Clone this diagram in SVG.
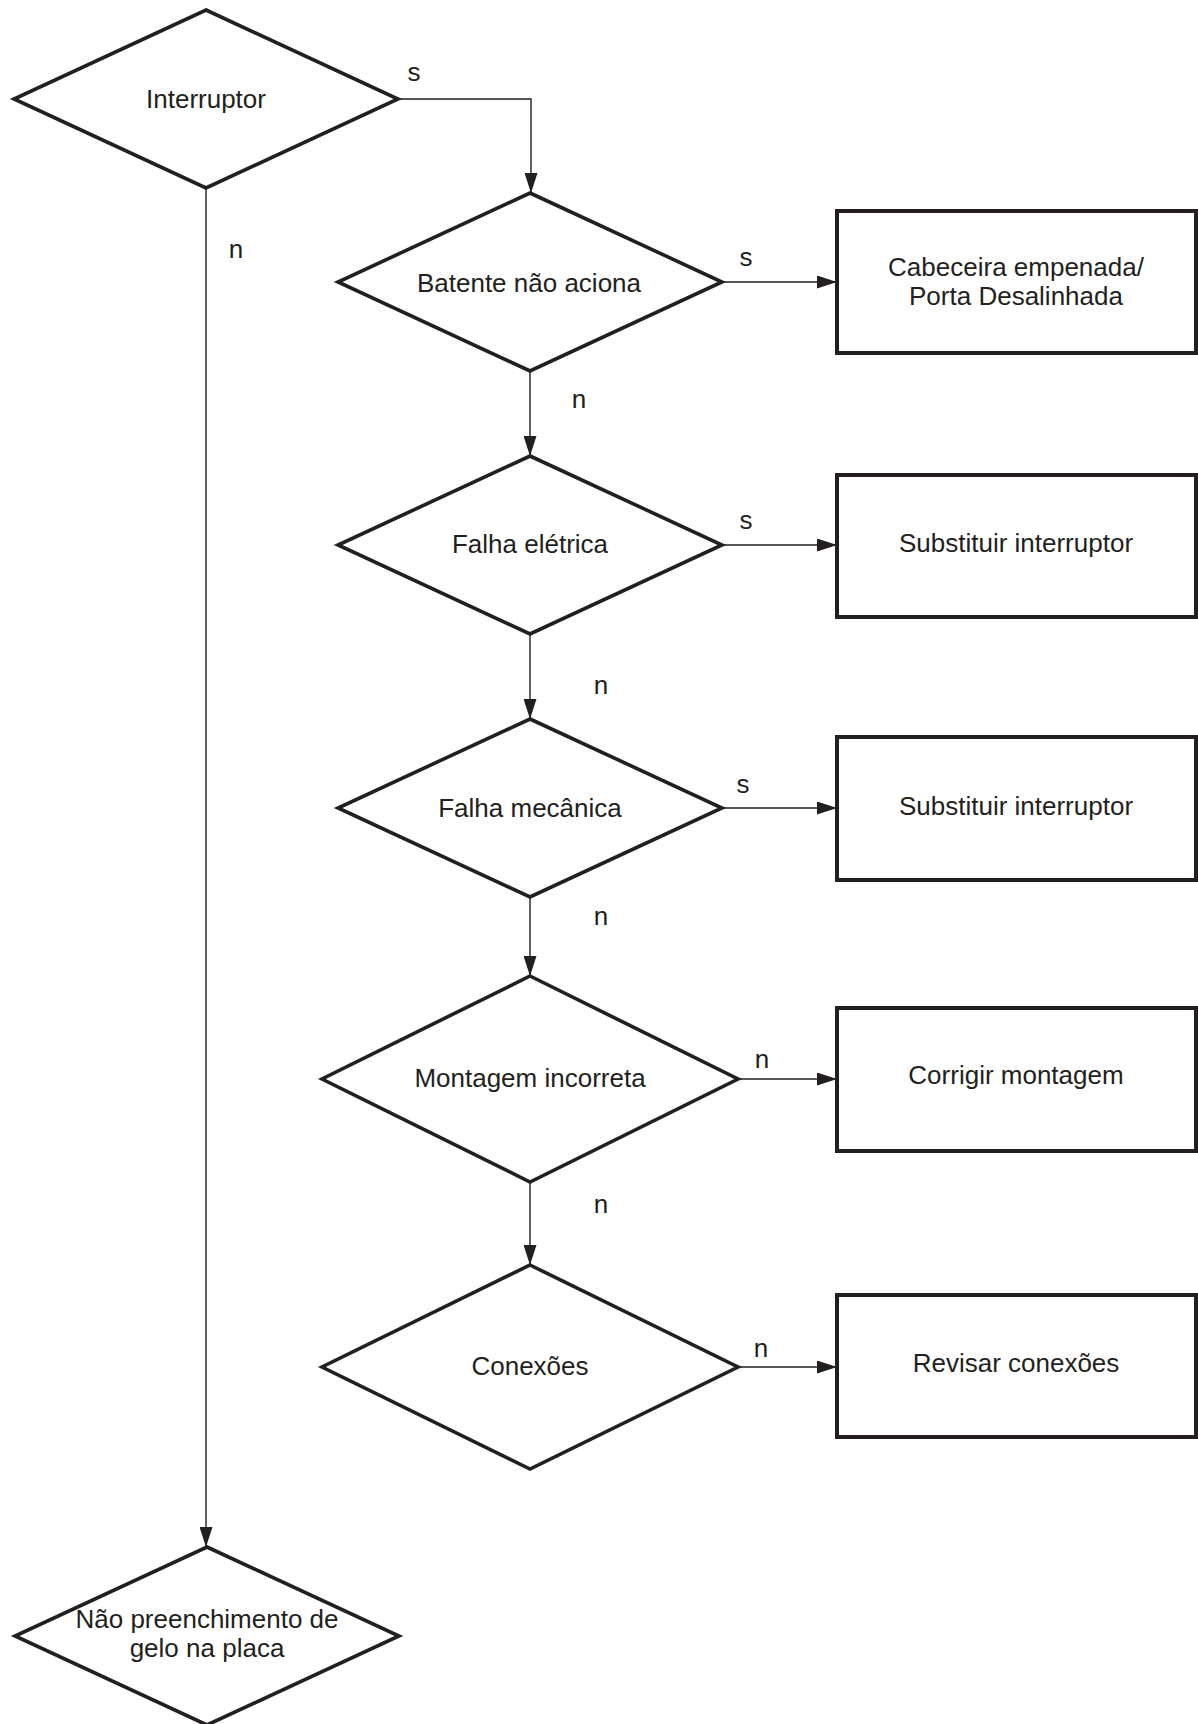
<svg xmlns="http://www.w3.org/2000/svg" width="1198" height="1724" viewBox="0 0 1198 1724">
<style>
.shape{fill:#fff;stroke:#231f20;stroke-width:3.6;stroke-linejoin:miter}
.box{stroke-width:4}
.conn{fill:none;stroke:#231f20;stroke-width:1.4}
text{font-family:"Liberation Sans",Arial,sans-serif;font-size:26px;fill:#231f20}
.c{text-anchor:middle}
</style>
<defs>
<marker id="arr" viewBox="0 0 20 13" refX="20" refY="6.5" markerWidth="20" markerHeight="13" markerUnits="userSpaceOnUse" orient="auto">
<path d="M0,0 L20,6.5 L0,13 Z" fill="#231f20"/>
</marker>
</defs>
<rect width="1198" height="1724" fill="#fff"/>
<g id="connectors">
<path class="conn" d="M398,99 H531 V193" marker-end="url(#arr)"/>
<path class="conn" d="M206,188 V1547" marker-end="url(#arr)"/>
<path class="conn" d="M722,282 H837" marker-end="url(#arr)"/>
<path class="conn" d="M530,371 V456" marker-end="url(#arr)"/>
<path class="conn" d="M722,545 H837" marker-end="url(#arr)"/>
<path class="conn" d="M530,634 V719" marker-end="url(#arr)"/>
<path class="conn" d="M722,808 H837" marker-end="url(#arr)"/>
<path class="conn" d="M530,897 V976" marker-end="url(#arr)"/>
<path class="conn" d="M738,1079 H837" marker-end="url(#arr)"/>
<path class="conn" d="M530,1182 V1265" marker-end="url(#arr)"/>
<path class="conn" d="M738,1367 H837" marker-end="url(#arr)"/>
<text x="414" y="81" class="c">s</text>
<text x="236" y="258" class="c">n</text>
<text x="746" y="266" class="c">s</text>
<text x="579" y="408" class="c">n</text>
<text x="746" y="529" class="c">s</text>
<text x="601" y="694" class="c">n</text>
<text x="743" y="793" class="c">s</text>
<text x="601" y="925" class="c">n</text>
<text x="762" y="1068" class="c">n</text>
<text x="601" y="1213" class="c">n</text>
<text x="761" y="1357" class="c">n</text>
</g>
<g id="interruptor">
<polygon class="shape" points="206,10 398,99 206,188 14,99"/>
<text x="206" y="108" class="c">Interruptor</text>
</g>
<g id="batente">
<polygon class="shape" points="530,193 722,282 530,371 338,282"/>
<text x="529" y="292" class="c">Batente não aciona</text>
</g>
<g id="falha-eletrica">
<polygon class="shape" points="530,456 722,545 530,634 338,545"/>
<text x="530" y="553" class="c">Falha elétrica</text>
</g>
<g id="falha-mecanica">
<polygon class="shape" points="530,719 722,808 530,897 338,808"/>
<text x="530" y="817" class="c">Falha mecânica</text>
</g>
<g id="montagem">
<polygon class="shape" points="530,976 738,1079 530,1182 322,1079"/>
<text x="530" y="1087" class="c">Montagem incorreta</text>
</g>
<g id="conexoes">
<polygon class="shape" points="530,1265 738,1367 530,1469 322,1367"/>
<text x="530" y="1375" class="c">Conexões</text>
</g>
<g id="nao-preenchimento">
<polygon class="shape" points="207,1547 399,1636 207,1725 15,1636"/>
<text x="207" y="1628" class="c">Não preenchimento de</text>
<text x="207" y="1657" class="c">gelo na placa</text>
</g>
<g id="cabeceira">
<rect class="shape box" x="837" y="211" width="359" height="142"/>
<text x="1016" y="276" class="c">Cabeceira empenada/</text>
<text x="1016" y="305" class="c">Porta Desalinhada</text>
</g>
<g id="substituir-1">
<rect class="shape box" x="837" y="475" width="359" height="142"/>
<text x="1016" y="552" class="c">Substituir interruptor</text>
</g>
<g id="substituir-2">
<rect class="shape box" x="837" y="737" width="359" height="143"/>
<text x="1016" y="815" class="c">Substituir interruptor</text>
</g>
<g id="corrigir">
<rect class="shape box" x="837" y="1008" width="359" height="143"/>
<text x="1016" y="1084" class="c">Corrigir montagem</text>
</g>
<g id="revisar">
<rect class="shape box" x="837" y="1295" width="359" height="142"/>
<text x="1016" y="1372" class="c">Revisar conexões</text>
</g>
</svg>
